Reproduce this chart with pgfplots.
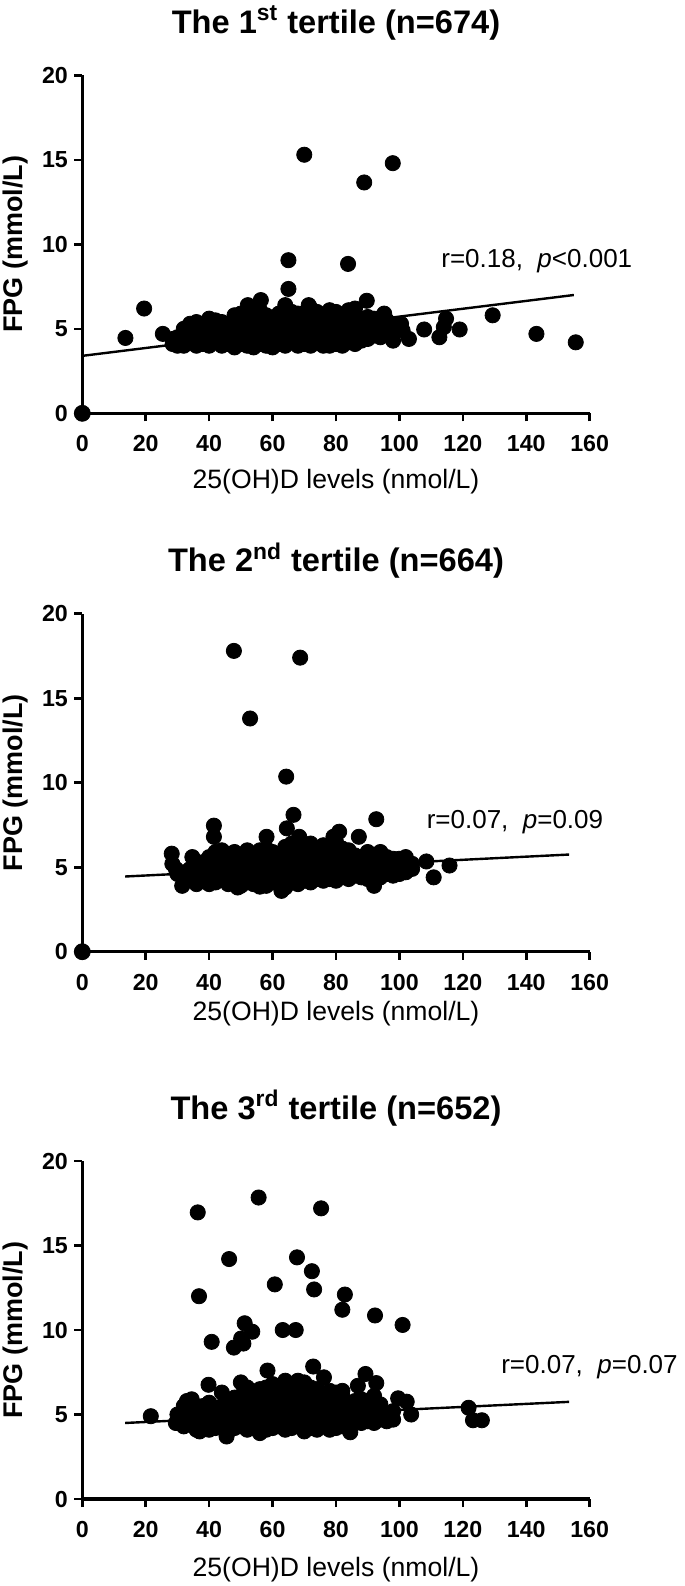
\documentclass[border=0pt]{standalone}
\usepackage{fontspec}
\setmainfont{Liberation Sans}
\usepackage{pgfplots}
\pgfplotsset{compat=1.18}
\pgfplotsset{
  tert/.style={
    scale only axis, width=253.7pt, height=169pt,
    xmin=0, xmax=160, ymin=0, ymax=20,
    xtick={0,20,...,160}, ytick={0,5,10,15,20},
    axis x line=bottom, axis y line=left,
    axis line style={-, line width=1.6pt},
    tick style={line width=1.3pt, black},
    tick align=outside, major tick length=4pt,
    /pgf/number format/assume math mode=true,
    xticklabel style={anchor=north, inner sep=0pt, yshift=-6.85pt, font=\bfseries\fontsize{11.6}{12}\selectfont},
    yticklabel style={anchor=east, inner sep=0pt, xshift=-3pt, font=\bfseries\fontsize{11.6}{12}\selectfont},
    xlabel={25(OH)D levels (nmol/L)},
    ylabel={\bfseries FPG (mmol/L)},
    ylabel style={at={(axis description cs:-0.1317,0.5)}, anchor=center, font=\fontsize{13.5}{14}\selectfont},
    every axis title shift=0pt,
    title style={at={(axis description cs:0.5,1.1243)}, anchor=base, yshift=0pt, font=\bfseries\fontsize{16.3}{17}\selectfont},
    clip=false,
  }
}
\begin{document}
\begin{tikzpicture}
% ---------------- Panel 1 ----------------
\begin{axis}[tert, at={(41.15pt,-206.65pt)}, anchor=south west,
  xlabel style={at={(axis description cs:0.5,-0.203)}, anchor=center, font=\fontsize{13.3}{14}\selectfont},
  title={The 1\textsuperscript{st} tertile (n=674)}]
\addplot[only marks, mark=*, mark size=3.8pt, black] coordinates {
(13.6,4.46) (19.5,6.2) (25.4,4.7) (70,15.3) (88.9,13.66) (97.9,14.8) (65,9.06) (83.8,8.84) (65,7.36)
(56.3,6.7) (52.2,6.4) (64,6.4) (71.4,6.4) (89.7,6.66) (95.2,5.9) (103,4.4) (107.8,4.96) (112.6,4.5)
(114.7,5.6) (114,5.1) (119,4.96) (129.4,5.8) (143.2,4.7) (155.6,4.2) (100.5,5.3) (98,4.3) (101,4.9)
(28.5,4.4) (28.5,4.1) (30,4.0) (30,4.5) (32,4.0) (32,4.7) (32,5.0) (34,4.2) (34,4.8) (34,5.3)
(36,4.0) (36,4.6) (36,5.2) (36,5.4) (38,4.1) (38,4.7) (38,5.1) (40,4.0) (40,4.5) (40,5.0) (40,5.6)
(42,4.2) (42,4.8) (42,5.5) (44,4.0) (44,4.6) (44,5.2) (44,5.4) (46,4.1) (46,4.7) (46,5.3)
(48,3.9) (48,4.5) (48,5.0) (48,5.8) (50,4.1) (50,4.7) (50,5.4) (50,5.9) (52,4.0) (52,4.6) (52,5.2) (52,5.7)
(54,3.9) (54,4.5) (54,5.1) (54,5.8) (56,4.1) (56,4.8) (56,5.4) (56,6.1) (58,4.0) (58,4.6) (58,5.2) (58,5.8)
(60,3.9) (60,4.5) (60,5.0) (60,5.6) (62,4.1) (62,4.7) (62,5.3) (62,5.9) (64,4.0) (64,4.6) (64,5.2) (64,5.8)
(66,4.2) (66,4.8) (66,5.4) (66,6.0) (68,4.0) (68,4.6) (68,5.2) (68,5.9) (70,4.1) (70,4.7) (70,5.3) (70,5.9)
(72,4.0) (72,4.5) (72,5.1) (72,5.7) (72,6.2) (74,4.2) (74,4.8) (74,5.4) (74,6.0) (76,4.0) (76,4.6) (76,5.2) (76,5.8)
(78,4.0) (78,4.7) (78,5.3) (78,6.1) (80,4.1) (80,4.8) (80,5.4) (80,6.0) (82,4.0) (82,4.5) (82,5.1) (82,5.7)
(84,4.2) (84,4.9) (84,5.5) (84,6.1) (86,4.1) (86,4.7) (86,5.3) (86,6.2) (88,4.3) (88,4.9) (88,5.6)
(90,4.4) (90,5.0) (90,5.7) (92,4.6) (92,5.2) (92,5.6) (94,4.5) (94,5.1) (96,4.7) (96,5.5) (98,4.9) (98,5.2)
};
\addplot[black, line width=1.2pt] coordinates {(0,3.4) (155,7.0)};
\addplot[only marks, mark=*, mark size=4pt, black] coordinates {(0,0)};
\node[anchor=base west, inner sep=0pt, font=\fontsize{13}{14}\selectfont] at (axis cs:113.1,8.6) {r=0.18,\ \ \textit{p}<0.001};
\end{axis}
% ---------------- Panel 2 ----------------
\begin{axis}[tert, at={(41.15pt,-475.85pt)}, anchor=south west,
  xlabel style={at={(axis description cs:0.5,-0.184)}, anchor=center, font=\fontsize{13.3}{14}\selectfont},
  title={The 2\textsuperscript{nd} tertile (n=664)}]
\addplot[only marks, mark=*, mark size=3.8pt, black] coordinates {
(47.8,17.8) (68.7,17.4) (52.9,13.8) (64.3,10.36) (66.6,8.1) (92.7,7.84) (41.5,7.46) (41.5,6.8)
(58.1,6.8) (64.5,7.3) (68.4,6.8) (81,7.1) (87.2,6.8) (79.2,6.8) (28.2,5.8) (28.4,5.2) (34.7,5.6)
(115.8,5.1) (110.8,4.4) (108.5,5.34) (62.8,3.6) (92,3.9) (49,3.8) (31.5,3.9) (56,3.85) (30,4.6) (29.5,4.9)
(32,4.1) (32,4.7) (34,4.3) (34,4.9) (36,4.0) (36,4.6) (36,5.2) (38,4.2) (38,4.8) (38,5.3)
(40,4.0) (40,4.6) (40,5.2) (40,5.6) (42,4.1) (42,4.7) (42,5.3) (42,5.9) (44,4.3) (44,4.9) (44,5.5) (44,6.0)
(46,4.0) (46,4.6) (46,5.2) (46,5.8) (48,4.2) (48,4.8) (48,5.4) (48,5.9) (50,3.9) (50,4.5) (50,5.1) (50,5.7)
(52,4.1) (52,4.7) (52,5.3) (52,6.0) (54,4.0) (54,4.6) (54,5.2) (54,5.8) (56,4.2) (56,4.8) (56,5.4) (56,6.0)
(58,3.9) (58,4.5) (58,5.1) (58,5.7) (58,6.1) (60,4.1) (60,4.7) (60,5.3) (60,5.9) (62,4.0) (62,4.6) (62,5.2) (62,5.8)
(64,3.8) (64,4.4) (64,5.0) (64,5.6) (64,6.2) (66,4.1) (66,4.7) (66,5.3) (66,5.9) (66,6.4) (68,4.0) (68,4.6) (68,5.2) (68,5.8)
(70,4.2) (70,4.8) (70,5.4) (70,6.0) (72,4.1) (72,4.7) (72,5.3) (72,5.9) (72,6.4) (74,4.3) (74,4.9) (74,5.5) (74,6.1)
(76,4.2) (76,4.8) (76,5.4) (76,6.3) (78,4.3) (78,4.9) (78,5.5) (78,6.0) (80,4.2) (80,4.8) (80,5.4) (80,6.0) (80,6.5)
(82,4.4) (82,5.0) (82,5.6) (82,6.1) (84,4.3) (84,4.9) (84,5.5) (84,6.0) (86,4.5) (86,5.1) (86,5.7)
(88,4.4) (88,5.0) (88,5.6) (90,4.3) (90,4.9) (90,5.5) (90,5.9) (92,4.5) (92,5.1) (92,5.7)
(94,4.4) (94,5.0) (94,5.6) (94,5.9) (96,4.6) (96,5.2) (96,5.6) (98,4.5) (98,5.1) (98,5.5)
(100,4.6) (100,5.2) (100,5.5) (102,4.7) (102,5.3) (102,5.6) (104,4.9) (104,5.2)
};
\addplot[black, line width=1.2pt] coordinates {(13.5,4.45) (153.5,5.75)};
\addplot[only marks, mark=*, mark size=4pt, black] coordinates {(0,0)};
\node[anchor=base west, inner sep=0pt, font=\fontsize{13}{14}\selectfont] at (axis cs:108.5,7.3) {r=0.07,\ \ \textit{p}=0.09};
\end{axis}
% ---------------- Panel 3 ----------------
\begin{axis}[tert, at={(41.15pt,-749.5pt)}, anchor=south west,
  xlabel style={at={(axis description cs:0.5,-0.21)}, anchor=center, font=\fontsize{13.3}{14}\selectfont},
  title={The 3\textsuperscript{rd} tertile (n=652)}]
\addplot[only marks, mark=*, mark size=3.8pt, black] coordinates {
(36.4,16.96) (55.6,17.84) (75.3,17.2) (46.3,14.2) (67.7,14.3) (72.4,13.48) (60.7,12.7) (73.1,12.4)
(36.8,12.0) (82.8,12.1) (82,11.2) (92.3,10.86) (101,10.3) (51.2,10.4) (53.6,9.9) (50.1,9.5) (50.8,9.2)
(47.8,8.96) (40.8,9.3) (63.2,10.0) (67.3,10.0) (72.8,7.84) (58.4,7.6) (76.2,7.2) (89.3,7.4) (92.7,6.86)
(86.9,6.7) (39.8,6.76) (21.6,4.9) (121.8,5.4) (123.2,4.66) (126,4.66) (99.6,5.96) (102.3,5.76) (103.7,5.0)
(45.5,3.7) (84.5,3.95) (56,3.9) (37,4.0) (29.5,4.5) (33,5.8) (34.5,5.9)
(30,4.5) (30,5.0) (32,4.3) (32,4.9) (32,5.5) (34,4.4) (34,5.0) (34,5.6) (36,4.1) (36,4.7) (36,5.3)
(38,4.3) (38,4.9) (38,5.5) (40,4.1) (40,4.7) (40,5.3) (40,5.7) (42,4.2) (42,4.8) (42,5.4)
(44,4.3) (44,4.9) (44,5.5) (44,6.3) (46,4.1) (46,4.7) (46,5.3) (46,5.9) (48,4.2) (48,4.8) (48,5.4) (48,6.0)
(50,4.3) (50,4.9) (50,5.5) (50,6.1) (50,6.9) (52,4.1) (52,4.7) (52,5.3) (52,5.9) (52,6.6)
(54,4.2) (54,4.8) (54,5.4) (54,6.0) (56,4.3) (56,4.9) (56,5.5) (56,6.1) (56,6.5)
(58,4.1) (58,4.7) (58,5.3) (58,5.9) (58,6.6) (60,4.2) (60,4.8) (60,5.4) (60,6.0) (60,6.8)
(62,4.3) (62,4.9) (62,5.5) (62,6.1) (62,6.7) (64,4.1) (64,4.7) (64,5.3) (64,5.9) (64,6.5) (64,7.0)
(66,4.2) (66,4.8) (66,5.4) (66,6.0) (66,6.7) (68,4.3) (68,4.9) (68,5.5) (68,6.1) (68,7.0)
(70,4.0) (70,4.6) (70,5.2) (70,5.8) (70,6.4) (70,6.9) (72,4.2) (72,4.8) (72,5.4) (72,6.0) (72,6.6)
(74,4.1) (74,4.7) (74,5.3) (74,5.9) (74,6.5) (76,4.3) (76,4.9) (76,5.5) (76,6.1)
(78,4.1) (78,4.7) (78,5.3) (78,5.9) (78,6.4) (80,4.2) (80,4.8) (80,5.4) (80,6.0) (80,6.3)
(82,4.3) (82,4.9) (82,5.5) (82,6.1) (82,6.4) (84,4.4) (84,5.0) (84,5.6) (86,4.6) (86,5.2) (86,5.8)
(88,4.5) (88,5.1) (88,5.7) (88,5.9) (90,4.6) (90,5.2) (90,5.8) (92,4.5) (92,5.1) (92,5.7) (92,6.1)
(94,4.7) (94,5.3) (94,5.6) (96,4.6) (96,5.0) (98,4.7) (98,5.2)
};
\addplot[black, line width=1.2pt] coordinates {(13.5,4.5) (153.5,5.75)};
\node[anchor=base west, inner sep=0pt, font=\fontsize{13}{14}\selectfont] at (axis cs:132,7.4) {r=0.07,\ \ \textit{p}=0.07};
\end{axis}
\pgfresetboundingbox
\path (0,0) rectangle (342.5pt,-793pt);
\end{tikzpicture}
\end{document}
